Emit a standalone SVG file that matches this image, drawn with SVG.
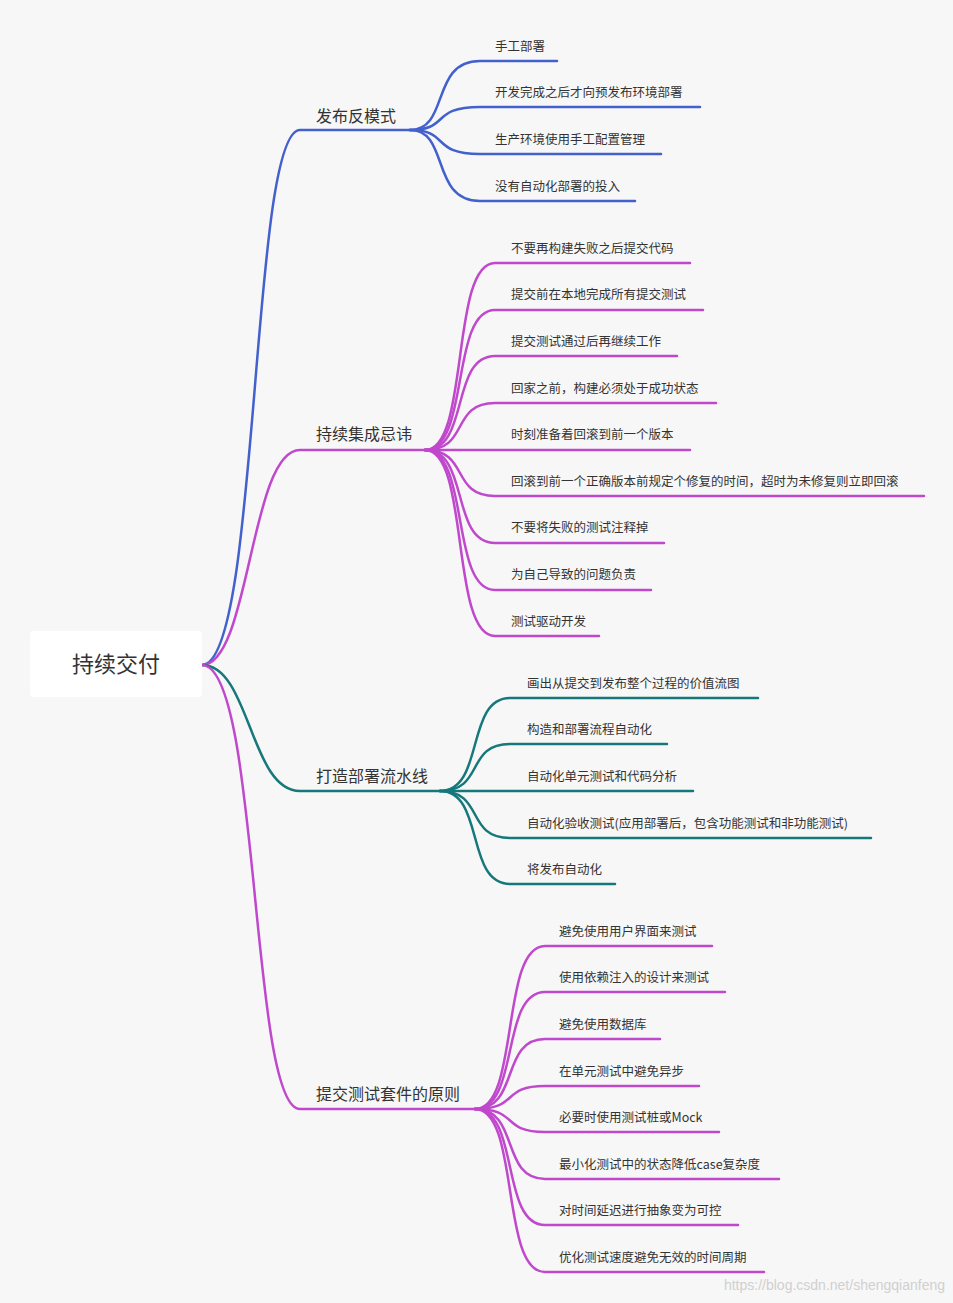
<svg xmlns="http://www.w3.org/2000/svg" width="953" height="1303" viewBox="0 0 953 1303">
<style>
text{font-family:"Noto Sans CJK SC","Noto Sans",sans-serif;fill:#333}
.b{font-size:16px}.c{font-size:12.5px}
.l{fill:none;stroke-width:2.5;stroke-linecap:round}
.bl{stroke:#4361cc}.mg{stroke:#c048cc}.tl{stroke:#16787a}
</style>
<rect width="953" height="1303" fill="#f7f7f7"/>
<g id="connectors">
<path class="l bl" d="M202,665 C260,665 250,130 300,130 H410"/>
<path class="l mg" d="M202,665 C250,665 250,450 300,450 H425"/>
<path class="l tl" d="M202,665 C250,665 250,791 300,791 H440"/>
<path class="l mg" d="M202,665 C260,665 250,1109 300,1109 H475"/>
<g class="l bl">
<path d="M410,130 C450,130 430,61 480,61 H557"/>
<path d="M410,130 C450,130 430,107 480,107 H700"/>
<path d="M410,130 C450,130 430,154 480,154 H661"/>
<path d="M410,130 C450,130 430,201 480,201 H635"/>
</g>
<g class="l mg">
<path d="M425,450 C470,450 450,263 495,263 H690"/>
<path d="M425,450 C470,450 450,310 495,310 H703"/>
<path d="M425,450 C470,450 450,356 495,356 H677"/>
<path d="M425,450 C470,450 450,403 495,403 H716"/>
<path d="M425,450 C470,450 450,450 495,450 H690"/>
<path d="M425,450 C470,450 450,496 495,496 H924"/>
<path d="M425,450 C470,450 450,543 495,543 H664"/>
<path d="M425,450 C470,450 450,590 495,590 H651"/>
<path d="M425,450 C470,450 450,636 495,636 H599"/>
</g>
<g class="l tl">
<path d="M440,791 C485,791 465,698 510,698 H758"/>
<path d="M440,791 C485,791 465,744 510,744 H667"/>
<path d="M440,791 C485,791 465,791 510,791 H693"/>
<path d="M440,791 C485,791 465,838 510,838 H871"/>
<path d="M440,791 C485,791 465,884 510,884 H615"/>
</g>
<g class="l mg">
<path d="M475,1109 C520,1109 500,946 545,946 H712"/>
<path d="M475,1109 C520,1109 500,992 545,992 H725"/>
<path d="M475,1109 C520,1109 500,1039 545,1039 H660"/>
<path d="M475,1109 C520,1109 500,1086 545,1086 H699"/>
<path d="M475,1109 C520,1109 500,1132 545,1132 H719"/>
<path d="M475,1109 C520,1109 500,1179 545,1179 H779"/>
<path d="M475,1109 C520,1109 500,1225 545,1225 H738"/>
<path d="M475,1109 C520,1109 500,1272 545,1272 H764"/>
</g>
</g>
<g id="root"><rect x="30" y="631" width="172" height="66" rx="4" fill="#fff"/><text x="116" y="672" font-size="22" text-anchor="middle">持续交付</text></g>
<g id="b1"><text class="b" x="316" y="122">发布反模式</text>
<text class="c" x="495" y="51">手工部署</text>
<text class="c" x="495" y="97">开发完成之后才向预发布环境部署</text>
<text class="c" x="495" y="144">生产环境使用手工配置管理</text>
<text class="c" x="495" y="191">没有自动化部署的投入</text></g>
<g id="b2"><text class="b" x="316" y="440">持续集成忌讳</text>
<text class="c" x="511" y="253">不要再构建失败之后提交代码</text>
<text class="c" x="511" y="299">提交前在本地完成所有提交测试</text>
<text class="c" x="511" y="346">提交测试通过后再继续工作</text>
<text class="c" x="511" y="393">回家之前，构建必须处于成功状态</text>
<text class="c" x="511" y="439">时刻准备着回滚到前一个版本</text>
<text class="c" x="511" y="486">回滚到前一个正确版本前规定个修复的时间，超时为未修复则立即回滚</text>
<text class="c" x="511" y="532">不要将失败的测试注释掉</text>
<text class="c" x="511" y="579">为自己导致的问题负责</text>
<text class="c" x="511" y="626">测试驱动开发</text></g>
<g id="b3"><text class="b" x="316" y="782">打造部署流水线</text>
<text class="c" x="527" y="688">画出从提交到发布整个过程的价值流图</text>
<text class="c" x="527" y="734">构造和部署流程自动化</text>
<text class="c" x="527" y="781">自动化单元测试和代码分析</text>
<text class="c" x="527" y="828">自动化验收测试(应用部署后，包含功能测试和非功能测试)</text>
<text class="c" x="527" y="874">将发布自动化</text></g>
<g id="b4"><text class="b" x="316" y="1100">提交测试套件的原则</text>
<text class="c" x="559" y="936">避免使用用户界面来测试</text>
<text class="c" x="559" y="982">使用依赖注入的设计来测试</text>
<text class="c" x="559" y="1029">避免使用数据库</text>
<text class="c" x="559" y="1076">在单元测试中避免异步</text>
<text class="c" x="559" y="1122">必要时使用测试桩或Mock</text>
<text class="c" x="559" y="1169">最小化测试中的状态降低case复杂度</text>
<text class="c" x="559" y="1215">对时间延迟进行抽象变为可控</text>
<text class="c" x="559" y="1262">优化测试速度避免无效的时间周期</text></g>
<text x="945" y="1290" font-size="14" text-anchor="end" style="fill:#d0d0d0;font-family:'Liberation Sans',sans-serif">https://blog.csdn.net/shengqianfeng</text>
</svg>
